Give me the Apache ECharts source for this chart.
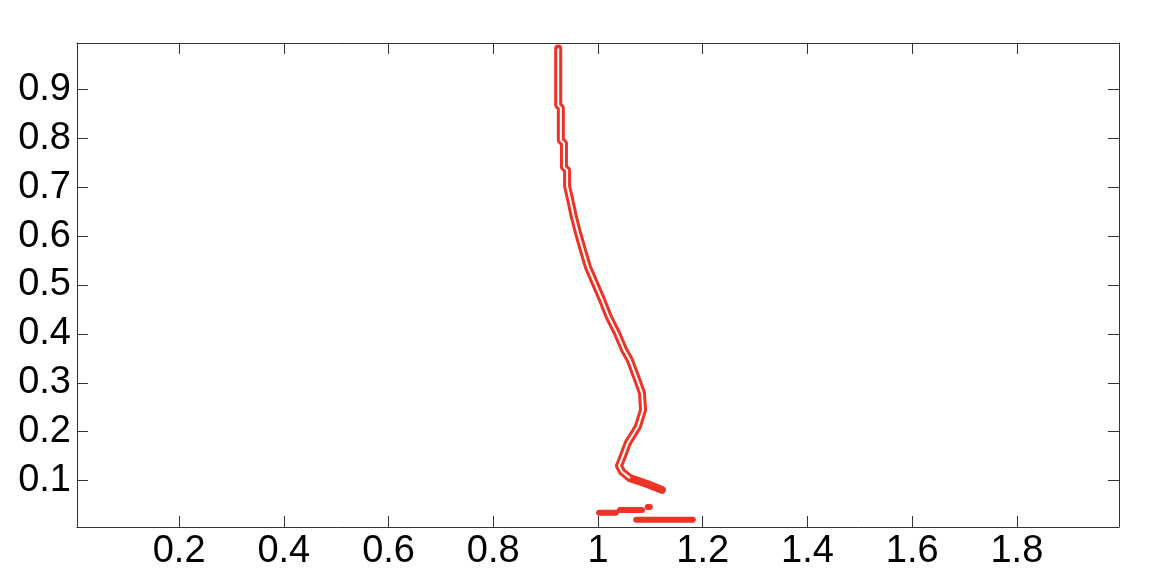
<!DOCTYPE html>
<html>
<head>
<meta charset="utf-8">
<script src="https://cdn.jsdelivr.net/npm/echarts@6/dist/echarts.min.js"></script>
<style>
  html, body { margin:0; padding:0; background:#fff; }
  #chart { width:1162px; height:588px; }
</style>
</head>
<body>
<div id="chart"></div>
<script>
// --- contour centre line (top -> bottom tip) ---
const lineX = [0.924, 0.924, 0.929, 0.929, 0.935, 0.935, 0.941, 0.941, 0.947, 0.954, 0.962, 0.971, 0.981, 0.994, 1.008, 1.021, 1.036, 1.050, 1.061, 1.075, 1.084, 1.086, 1.076, 1.057, 1.046, 1.040, 1.046, 1.061, 1.094, 1.122]
const lineY = [0.984, 0.868, 0.862, 0.796, 0.790, 0.741, 0.735, 0.702, 0.674, 0.639, 0.606, 0.572, 0.536, 0.504, 0.469, 0.434, 0.402, 0.367, 0.346, 0.306, 0.279, 0.244, 0.210, 0.177, 0.146, 0.130, 0.118, 0.105, 0.093, 0.081]

// --- small pieces near the bottom ---
const bitX1 = [1.002, 1.034], bitY1 = [0.034, 0.034]
const bitX2 = [1.042, 1.084], bitY2 = [0.040, 0.040]
const bitX3 = [1.095, 1.099], bitY3 = [0.046, 0.046]
const bitX4= [1.073, 1.181], bitY4 = [0.020, 0.020]

// --- ticks ---
const xTicks = [0.2, 0.4, 0.6, 0.8, 1.0, 1.2, 1.4, 1.6, 1.8]
const yTicks = [0.1, 0.2, 0.3, 0.4, 0.5, 0.6, 0.7, 0.8, 0.9]

const RED = '#ec3326'
const zip = (xs, ys) => xs.map((x, i) => [x, ys[i]])
const fmt = v => String(+Number(v).toFixed(1))

const axisBase = {
  type: 'value',
  axisLine: { show: true, onZero: false, lineStyle: { color: '#333', width: 1 } },
  splitLine: { show: false },
  axisTick: { show: true, inside: true, length: 11, lineStyle: { color: '#333' } }
}

const chart = echarts.init(document.getElementById('chart'))
const piece = (xs, ys) => ({
  type: 'line', data: zip(xs, ys), symbol: 'none', silent: true,
  lineStyle: { color: RED, width: 6, cap: 'round' }
})

chart.setOption({
  animation: false,
  grid: { left: 77, right: 43, top: 43, bottom: 61 },
  xAxis: [
    Object.assign({}, axisBase, {
      min: 0.005, max: 1.995, position: 'bottom',
      axisTick: Object.assign({}, axisBase.axisTick, { customValues: xTicks }),
      axisLabel: { customValues: xTicks, formatter: fmt, color: '#000', fontSize: 38, fontFamily: 'Liberation Sans', margin: 6 }
    }),
    Object.assign({}, axisBase, {
      min: 0.005, max: 1.995, position: 'top',
      axisTick: Object.assign({}, axisBase.axisTick, { customValues: xTicks }),
      axisLabel: { show: false }
    })
  ],
  yAxis: [
    Object.assign({}, axisBase, {
      min: 0.005, max: 0.995, position: 'left',
      axisTick: Object.assign({}, axisBase.axisTick, { customValues: yTicks }),
      axisLabel: { customValues: yTicks, formatter: fmt, color: '#000', fontSize: 38, fontFamily: 'Liberation Sans', margin: 6 }
    }),
    Object.assign({}, axisBase, {
      min: 0.005, max: 0.995, position: 'right',
      axisTick: Object.assign({}, axisBase.axisTick, { customValues: yTicks }),
      axisLabel: { show: false }
    })
  ],
  series: [
    {
      type: 'line', data: zip(lineX, lineY), symbol: 'none', silent: true,
      lineStyle: { color: RED, width: 8, cap: 'round', join: 'round' }
    },
    {
      type: 'line', data: zip(lineX, lineY).slice(0, 28), symbol: 'none', silent: true,
      lineStyle: { color: '#fff', width: 2, cap: 'butt', join: 'round' }
    },
    piece(bitX1, bitY1),
    piece(bitX2, bitY2),
    piece(bitX3, bitY3),
    piece(bitX4, bitY4)
  ]
})
</script>
</body>
</html>
